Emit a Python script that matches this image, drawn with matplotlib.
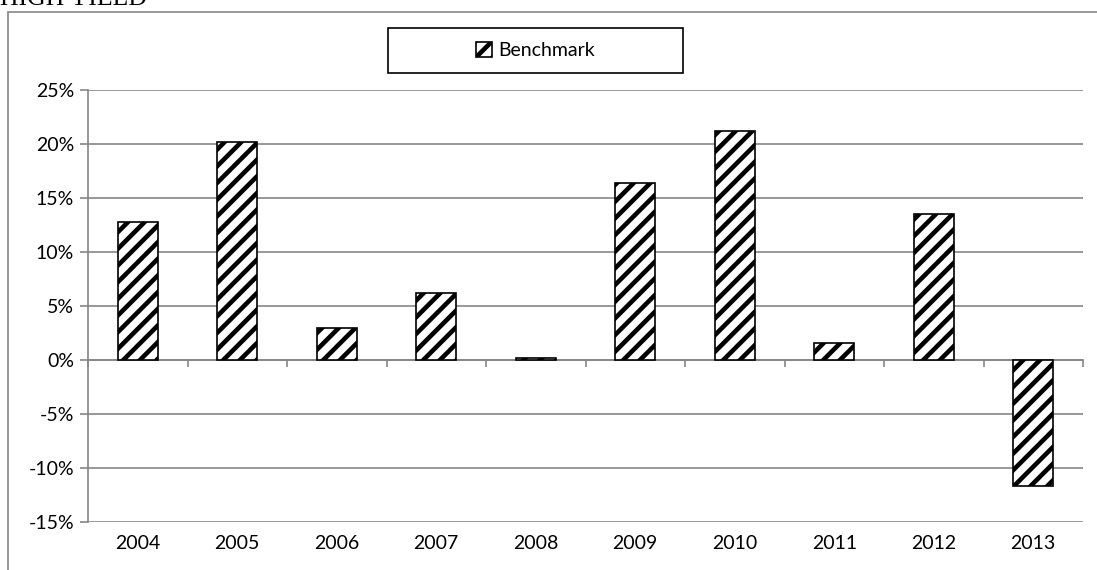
import numpy as np
import matplotlib.pyplot as plt
from matplotlib.patches import Rectangle
from matplotlib.ticker import FuncFormatter, MultipleLocator

years = ['2004', '2005', '2006', '2007', '2008', '2009', '2010', '2011', '2012', '2013']
benchmark = [12.8, 20.2, 3.0, 6.2, 0.2, 16.4, 21.2, 1.6, 13.5, -11.7]
yticks = [-15, -10, -5, 0, 5, 10, 15, 20, 25]

grey = '#868686'
plt.rcParams['font.family'] = ['Lato', 'DejaVu Sans']
plt.rcParams['hatch.linewidth'] = 3.3
plt.rcParams['hatch.color'] = 'black'

fig = plt.figure(figsize=(10.97, 5.70), dpi=100)
ax = fig.add_axes([88 / 1097, 48 / 570, 995 / 1097, 432 / 570])

x = np.arange(len(years))
ax.bar(x, benchmark, width=0.4, facecolor='white', edgecolor='black',
       linewidth=1.2, hatch='//', label='Benchmark', zorder=3)

ax.set_xlim(-0.5, len(years) - 0.5)
ax.set_ylim(-15, 25)
ax.set_yticks(yticks)
ax.yaxis.set_major_formatter(FuncFormatter(lambda v, p: f'{v:.0f}%'))
ax.grid(axis='y', color=grey, linewidth=1.2, zorder=0)

# x axis line sits at zero, tick marks between categories
ax.spines['bottom'].set_position(('data', 0))
ax.spines['bottom'].set_color(grey)
ax.spines['bottom'].set_linewidth(1.2)
ax.spines['left'].set_color(grey)
ax.spines['left'].set_linewidth(1.2)
ax.spines['top'].set_visible(False)
ax.spines['right'].set_visible(False)
ax.set_xticks([])
ax.xaxis.set_minor_locator(MultipleLocator(1, offset=0.5))
ax.tick_params(axis='x', which='minor', direction='out', length=5,
               color=grey, width=1.2)
ax.tick_params(axis='y', direction='out', length=6, color=grey, width=1.2,
               labelsize=14, pad=4)

# year labels at the bottom of the plot area
for xi, yr in zip(x, years):
    ax.text(xi, -0.03, yr, transform=ax.get_xaxis_transform(),
            ha='center', va='top', fontsize=14)

fig.legend(loc='center', bbox_to_anchor=(535.5 / 1097, 1 - 50.5 / 570),
           frameon=False, fontsize=14, handlelength=0.8, handleheight=0.8,
           handletextpad=0.3)
# legend frame
fig.add_artist(Rectangle((388 / 1097, 1 - 73 / 570), 295 / 1097, 45 / 570,
                         transform=fig.transFigure, fill=False,
                         edgecolor='black', linewidth=1.2))

# chart area border
fig.add_artist(Rectangle((8 / 1097, -0.05), 1.1, 1 - 12 / 570 + 0.05,
                         transform=fig.transFigure, fill=False,
                         edgecolor=grey, linewidth=1.2))

fig.text(0.0, 1 - 5 / 570, 'HIGH YIELD', family='Liberation Serif',
         fontsize=18.5, ha='left', va='baseline')

fig.savefig('out.png', dpi=100)
